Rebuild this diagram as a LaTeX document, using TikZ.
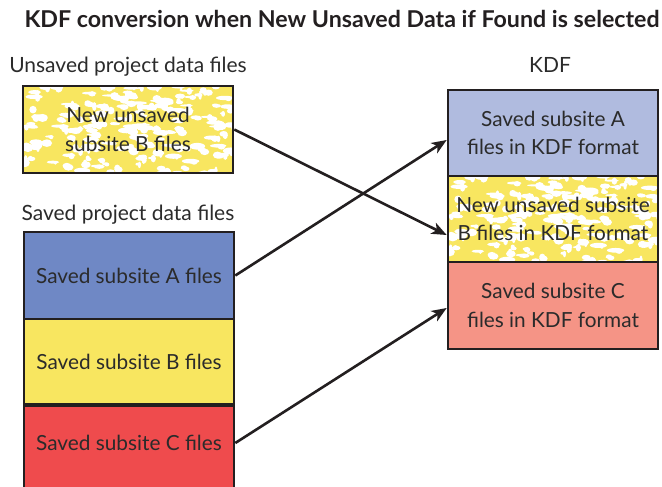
\documentclass[tikz,border=0pt]{standalone}
\usepackage{fontspec}
\setmainfont{Lato}
\usetikzlibrary{arrows.meta,calc}
\definecolor{edge}{HTML}{231F20}
\definecolor{txt}{HTML}{2B2B2B}
\definecolor{blueA}{HTML}{6F88C5}
\definecolor{lblue}{HTML}{B0BBDF}
\definecolor{yel}{HTML}{F8E660}
\definecolor{redC}{HTML}{EF4B4D}
\definecolor{lred}{HTML}{F59486}
\tikzset{
  box/.style={draw=edge, line width=2.6pt, inner sep=0pt, minimum width=210pt, text=txt, align=center, font=\fontsize{20.8}{28.5}\selectfont},
  lbl/.style={text=txt, inner sep=0pt, font=\fontsize{21}{24}\selectfont},
  conn/.style={draw=edge, line width=2.6pt, -{Stealth[length=15pt,width=12pt,inset=4pt]}},
}
\newcommand{\blobfill}[4]{% x1 y1 x2 y2
  \begin{scope}
    \clip (#1,#2) rectangle (#3,#4);
    \fill[yel] (#1,#2) rectangle (#3,#4);
    \pgfmathsetseed{11}
    \foreach \i in {1,...,170}{
      \pgfmathsetmacro{\bx}{#1+rnd*(#3-#1)}
      \pgfmathsetmacro{\by}{#2+rnd*(#4-#2)}
      \pgfmathsetmacro{\bw}{2+rnd*7}
      \pgfmathsetmacro{\bh}{1+rnd*2.5}
      \pgfmathsetmacro{\cw}{1.5+rnd*4}
      \pgfmathsetmacro{\ch}{1.5+rnd*3}
      \fill[white] (\bx,\by) ellipse[x radius=\bw, y radius=\bh];
      \fill[white] (\bx+\bw*0.4,\by+\bh*0.5) ellipse[x radius=\cw, y radius=\ch];
    }
  \end{scope}}
\begin{document}
\begin{tikzpicture}[x=1pt,y=-1pt]
\useasboundingbox (0,0) rectangle (662,487);
\begin{scope}
\clip (0,0) rectangle (662,487);
% title
\node[anchor=base, inner sep=0pt, text=edge, font=\bfseries\fontsize{23.2}{26}\selectfont] (title) at (342,28) {KDF conversion when New Unsaved Data if Found is selected};
% labels
\node[lbl, anchor=base] (ulbl) at (128,73) {Unsaved project data files};
\node[lbl, anchor=base] (slbl) at (128,220) {Saved project data files};
\node[lbl, anchor=base] (klbl) at (550,73) {KDF};
% unsaved box
\blobfill{23}{86}{233}{173}
\node[box, minimum height=87pt] (U) at (128,129.5) {New unsaved\\subsite B files};
% saved stack
\node[box, fill=blueA, minimum height=87pt] (SA) at (129,275.5) {Saved subsite A files};
\node[box, fill=yel, minimum height=85pt] (SB) at (129,361.5) {Saved subsite B files};
\node[box, fill=redC, minimum height=86pt, anchor=north] (SC) at (129,404) {};
\node[text=txt, inner sep=0pt, font=\fontsize{20.8}{28}\selectfont] (SCt) at (129,443) {Saved subsite C files};
% KDF stack
\node[box, fill=lblue, minimum height=86pt] (KA) at (553,133) {Saved subsite A\\files in KDF format};
\blobfill{448}{176}{658}{262}
\node[box, minimum height=86pt] (KB) at (553,219) {New unsaved subsite\\B files in KDF format};
\node[box, fill=lred, minimum height=87pt] (KC) at (553,305.5) {Saved subsite C\\files in KDF format};
% connectors
\coordinate (aKA) at ($(KA.west)+(0,7)$);
\coordinate (aKB) at ($(KB.west)+(0,16)$);
\coordinate (aKC) at ($(KC.west)+(0,2.5)$);
\draw[conn] (U.east) -- (aKB);
\draw[conn] (SA.east) -- (aKA);
\draw[conn] (SC.east|-SCt) -- (aKC);
\end{scope}
\end{tikzpicture}
\end{document}
